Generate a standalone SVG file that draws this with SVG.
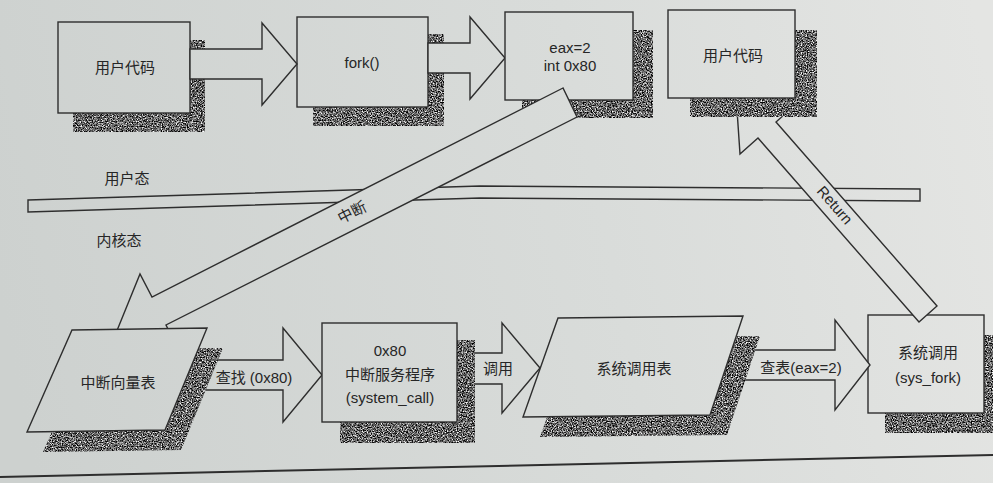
<svg xmlns="http://www.w3.org/2000/svg" width="993" height="483" viewBox="0 0 993 483">
<style>
  .ln{fill:url(#paper);stroke:#2e2e2e;stroke-width:1.4;stroke-linejoin:miter}
  .sh{fill:#7a7c7a;filter:url(#speckle)}
  .t{font-family:"Liberation Sans","Noto Sans CJK SC",sans-serif;font-size:15px;fill:#262626;text-anchor:middle;dominant-baseline:central}
</style>
<defs>
  <linearGradient id="paper" gradientUnits="userSpaceOnUse" x1="0" y1="300" x2="993" y2="100">
    <stop offset="0" stop-color="#cdd1cf"/>
    <stop offset="0.6" stop-color="#d9dcda"/>
    <stop offset="1" stop-color="#e4e5e3"/>
  </linearGradient>
  <filter id="speckle" x="0" y="0" width="1" height="1" color-interpolation-filters="sRGB">
    <feTurbulence type="fractalNoise" baseFrequency="0.8" numOctaves="2" seed="7" result="n"/>
    <feColorMatrix in="n" type="matrix" values="2.2 0 0 0 -0.7  2.2 0 0 0 -0.7  2.2 0 0 0 -0.7  0 0 0 0 1" result="g"/>
    <feComposite in="g" in2="SourceAlpha" operator="in"/>
  </filter>
</defs>

<rect width="993" height="483" fill="url(#paper)"/>

<g id="separator">
  <polygon class="ln" points="28,200 480,186 920,189 920,201 480,198 28,212"/>
  <text class="t" x="127" y="178">用户态</text>
  <text class="t" x="119" y="240">内核态</text>
</g>
<g id="bottom-line">
  <line x1="0" y1="477" x2="993" y2="455" stroke="#2e2e2e" stroke-width="2"/>
</g>

<g id="user-code-1">
  <rect class="sh" x="73" y="40" width="132" height="92"/>
  <rect class="ln" x="58" y="22" width="132" height="91"/>
  <text class="t" x="125" y="67">用户代码</text>
</g>
<g id="fork">
  <rect class="sh" x="313" y="34" width="131" height="92"/>
  <rect class="ln" x="297" y="17" width="131" height="90"/>
  <text class="t" x="362" y="62">fork()</text>
</g>
<g id="sys-fork">
  <rect class="sh" x="885" y="335" width="110" height="98"/>
  <rect class="ln" x="868" y="315" width="116" height="98"/>
  <text class="t" x="928" y="352">系统调用</text>
  <text class="t" x="928" y="377">(sys_fork)</text>
</g>

<g id="connectors">
  <polygon class="ln" points="190,49 262,49 262,23 297,64 262,105 262,79 190,79"/>
  <polygon class="ln" points="428,43 470,43 470,17 505,58 470,99 470,73 428,73"/>
  <polygon class="ln" points="175,360 283,360 283,328 322,375 283,422 283,390 175,390"/>
  <text class="t" x="254" y="377">查找 (0x80)</text>
  <polygon class="ln" points="457,353 502,353 502,323 540,368 502,413 502,384 457,384"/>
  <text class="t" x="498" y="368">调用</text>
  <polygon class="ln" points="712,350 835,350 835,320 870,365 835,410 835,380 712,380"/>
  <text class="t" x="801" y="367">查表(eax=2)</text>
  <polygon id="return-arrow" class="ln" points="919,322 758,138 740,154 736,95 794,106 776,122 937,306"/>
  <text class="t" x="835" y="205" transform="rotate(49 835 205)">Return</text>
</g>

<g id="user-code-2">
  <rect class="sh" x="690" y="30" width="127" height="87"/>
  <rect class="ln" x="668" y="10" width="127" height="88"/>
  <text class="t" x="733" y="55">用户代码</text>
</g>
<g id="int80">
  <rect class="sh" x="522" y="30" width="131" height="88"/>
  <rect class="ln" x="505" y="12" width="128" height="88"/>
  <text class="t" x="570" y="47">eax=2</text>
  <text class="t" x="570" y="65">int 0x80</text>
</g>

<g id="interrupt-arrow">
  <polygon class="ln" points="563,88 152,297 140,274 116,333 178,349 166,325 577,117"/>
  <text class="t" x="352" y="212" transform="rotate(-27 352 212)">中断</text>
</g>

<g id="idt">
  <polygon class="sh" points="88,350 223,348 181,450 43,452"/>
  <polygon class="ln" points="72,330 207,328 165,430 27,432"/>
  <text class="t" x="118" y="382">中断向量表</text>
</g>
<g id="system-call">
  <rect class="sh" x="340" y="340" width="135" height="103"/>
  <rect class="ln" x="322" y="323" width="135" height="99"/>
  <text class="t" x="390" y="350">0x80</text>
  <text class="t" x="390" y="374">中断服务程序</text>
  <text class="t" x="390" y="397">(system_call)</text>
</g>
<g id="syscall-table">
  <polygon class="sh" points="575,338 760,336 727,435 540,437"/>
  <polygon class="ln" points="558,318 743,316 710,415 523,417"/>
  <text class="t" x="634" y="368">系统调用表</text>
</g>
</svg>
